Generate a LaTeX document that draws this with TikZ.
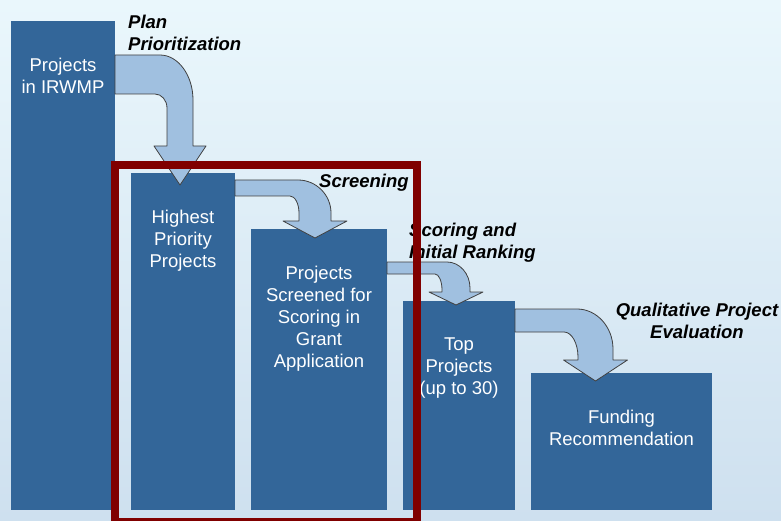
\documentclass[tikz,border=0pt]{standalone}
\usepackage{fontspec}
\setmainfont{Liberation Sans}
\usetikzlibrary{positioning}

\definecolor{barblue}{RGB}{51,102,153}
\definecolor{arrowblue}{RGB}{160,192,224}
\definecolor{framered}{RGB}{128,0,0}
\definecolor{bgtop}{RGB}{234,247,252}
\definecolor{bgbottom}{RGB}{206,224,239}

\tikzset{
	bar/.style = {fill = barblue, inner sep = 0, outer sep = 0, anchor = north west},
	bartext/.style = {text = white, align = center, inner sep = 0, font = \fontsize{18.5}{22}\selectfont},
	steplabel/.style = {inner sep = 0, font = \fontsize{18.5}{22}\selectfont\bfseries\itshape},
	bentarrow/.style = {fill = arrowblue, draw = black!75, line width = 0.8pt, line join = round}
}

\begin{document}
\begin{tikzpicture}[x = 1pt, y = -1pt]

	% Background
	
	\useasboundingbox (0, 0) rectangle (781, 521);
	\shade [top color = bgtop, bottom color = bgbottom] (0, 0) rectangle (781, 521);
	
	% Bars of the funnel
	
	\node [bar, minimum width = 104pt, minimum height = 489pt] (irwmp) at (11, 21) {};
	\node [bar, minimum width = 104pt, minimum height = 337pt] (priority) at (131, 173) {};
	\node [bar, minimum width = 136pt, minimum height = 281pt] (screened) at (251, 229) {};
	\node [bar, minimum width = 112pt, minimum height = 209pt] (top) at (403, 301) {};
	\node [bar, minimum width = 181pt, minimum height = 137pt] (funding) at (531, 373) {};
	
	% Label bars
	
	\node [bartext, below = 37pt of irwmp.north] (irwmptext) {Projects\\in IRWMP};
	\node [bartext, below = 37pt of priority.north] (prioritytext) {Highest\\Priority\\Projects};
	\node [bartext, below = 37pt of screened.north] (screenedtext) {Projects\\Screened for\\Scoring in\\Grant\\Application};
	\node [bartext, below = 37pt of top.north] (toptext) {Top\\Projects\\(up to 30)};
	\node [bartext, below = 37pt of funding.north] (fundingtext) {Funding\\Recommendation};
	
	% Bent arrows from one bar down to the next
	
	\foreach \from/\yt/\yb/\xc/\sw/\hw/\yh/\ytip/\ao/\bo/\ai/\bi in {
		irwmp/55/94/180/13/26/146/185/33/45/12/14,
		priority/180/196/315/16/32/221/238/33/33/9/17,
		screened/262/274/456/14/27/292/305/23/26/7/16,
		top/309/332/595.5/17.5/32/360/381/36/40/14/25}
	{
		\draw [bentarrow] (\from.east |- 0,\yt) -- ({\xc + \sw - \ao}, \yt)
			.. controls ({\xc + \sw - 0.45*\ao}, \yt) and ({\xc + \sw}, {\yt + 0.45*\bo}) .. ({\xc + \sw}, {\yt + \bo})
			-- ({\xc + \sw}, \yh) -- ({\xc + \hw}, \yh) -- (\xc, \ytip) -- ({\xc - \hw}, \yh) -- ({\xc - \sw}, \yh)
			-- ({\xc - \sw}, {\yb + \bi})
			.. controls ({\xc - \sw}, {\yb + 0.45*\bi}) and ({\xc - \sw - 0.45*\ai}, \yb) .. ({\xc - \sw - \ai}, \yb)
			-- (\from.east |- 0,\yb) -- cycle;
	}
	
	% Step labels
	
	\node [steplabel, align = left, anchor = north west] (planlabel) at (128, 15) {Plan\\Prioritization};
	\node [steplabel, anchor = base west] (screenlabel) at (319, 188) {Screening};
	\node [steplabel, align = left, anchor = north west] (scorelabel) at (409, 222.5) {Scoring and\\Initial Ranking};
	\node [steplabel, align = center, anchor = north] (evallabel) at (697, 302.5) {Qualitative Project\\Evaluation};
	
	% Frame round the grant application steps
	
	\draw [framered, line width = 7.5pt] (115, 165) rectangle (417, 521.75);

\end{tikzpicture}
\end{document}
